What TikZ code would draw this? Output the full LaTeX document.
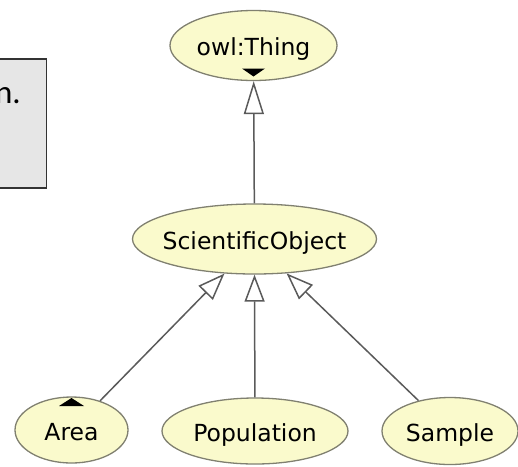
\documentclass[tikz,border=0pt]{standalone}
\usepackage{fontspec}
\setmainfont{DejaVu Sans}
\newfontfamily\notefont{Carlito}
\usetikzlibrary{arrows.meta,shapes.geometric}

\definecolor{classfill}{RGB}{250,250,204}
\definecolor{classedge}{RGB}{128,128,112}
\definecolor{edgegray}{RGB}{90,90,90}
\definecolor{notefill}{RGB}{230,230,230}

\tikzset{
  owlclass/.style={ellipse, draw=classedge, fill=classfill, line width=1.3pt,
    inner sep=0pt, text height=21pt, text depth=1pt,
    font=\fontsize{23.5pt}{26pt}\selectfont},
  subclassof/.style={draw=edgegray, line width=1.5pt,
    -{Triangle[open, length=27pt, width=20pt, fill=white]}},
  marker/.style={fill=black, draw=none},
}

\newcommand{\cls}[1]{\makebox[0pt]{#1}}

\begin{document}
\begin{tikzpicture}[x=1pt, y=-1pt]
  \useasboundingbox (0,0) rectangle (518,466);

  % note box, partly outside the left edge
  \node[draw=black!80, fill=notefill, line width=1.3pt, minimum width=55pt,
        minimum height=129pt, inner sep=0pt] (note) at (19,123.5) {};
  \node[anchor=base east, inner sep=0pt,
        font=\notefont\fontsize{33pt}{36pt}\selectfont] (notetext) at (21,103) {n.};

  % classes
  \node[owlclass, minimum width=167pt, minimum height=70pt] (thing) at (253.5,45.5) {\cls{owl:Thing}};
  \node[owlclass, minimum width=244pt, minimum height=70pt] (sci) at (254.5,239) {\cls{ScientificObject}};
  \node[owlclass, minimum width=113pt, minimum height=66pt] (area) at (71.5,430) {\cls{Area}};
  \node[owlclass, minimum width=186pt, minimum height=66pt] (pop) at (255,431) {\cls{Population}};
  \node[owlclass, minimum width=136pt, minimum height=67pt] (sample) at (450,431) {\cls{Sample}};

  % subclass relations
  \draw[subclassof, -{Triangle[open, length=33pt, width=20pt, fill=white]}] (sci) -- (thing);
  \draw[subclassof] (area) -- (sci.-131);
  \draw[subclassof] (pop) -- (sci.south);
  \draw[subclassof] (sample) -- (sci.-47);

  % expand / collapse markers
  \fill[marker] ([xshift=-11.5pt, yshift=-23pt]thing.center) -- ++(23,0) -- ++(-11.5,8) -- cycle;
  \fill[marker] ([xshift=-12.5pt, yshift=24pt]area.center) -- ++(25,0) -- ++(-12.5,-8) -- cycle;
\end{tikzpicture}
\end{document}
